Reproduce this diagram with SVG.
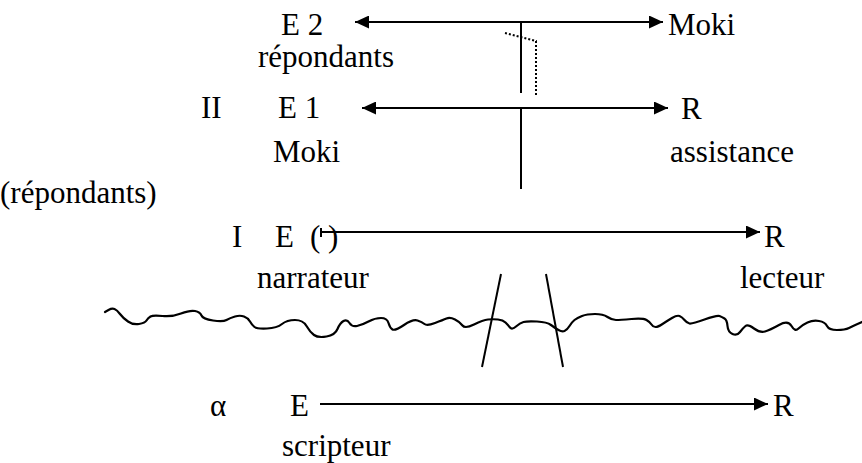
<svg xmlns="http://www.w3.org/2000/svg" width="862" height="463" viewBox="0 0 862 463">
  <defs>
    <marker id="head" viewBox="0 0 14 13" refX="14" refY="6.5" markerWidth="14" markerHeight="13" markerUnits="userSpaceOnUse" orient="auto-start-reverse">
      <path d="M0,0 L14,6.5 L0,13 Z" fill="#000"/>
    </marker>
  </defs>
  <style>
    .t text { font-size: 31px; fill: #000; }
    .ln { stroke: #000; stroke-width: 2; fill: none; }
    .dot { stroke: #000; stroke-width: 2; fill: none; stroke-dasharray: 2 2; }
    .wave { stroke: #000; stroke-width: 2.2; fill: none; stroke-linejoin: round; stroke-linecap: round; }
  </style>
  <rect width="862" height="463" fill="#fff"/>

  <g class="t" font-family="'Times New Roman', 'Liberation Serif', Tinos, serif">
    <!-- level labels -->
    <g id="levels">
      <text x="201" y="118">II</text>
      <text x="0" y="203">(répondants)</text>
      <text x="232" y="247">I</text>
      <text x="210" y="416">α</text>
    </g>

    <g id="e2">
      <text x="281" y="35">E 2</text>
      <text x="258" y="67">répondants</text>
    </g>
    <g id="moki-r2">
      <text x="668" y="35">Moki</text>
    </g>
    <g id="e1">
      <text x="278" y="118">E 1</text>
      <text x="273" y="162">Moki</text>
    </g>
    <g id="r1">
      <text x="681" y="119">R</text>
      <text x="670" y="162">assistance</text>
    </g>
    <g id="narrateur">
      <text x="275" y="247">E</text>
      <text x="310" y="247">(</text>
      <text x="328" y="247">)</text>
      <text x="257" y="288">narrateur</text>
    </g>
    <g id="lecteur">
      <text x="764" y="247">R</text>
      <text x="740" y="288">lecteur</text>
    </g>
    <g id="scripteur">
      <text x="290" y="416">E</text>
      <text x="282" y="456">scripteur</text>
    </g>
    <g id="reader">
      <text x="773" y="416">R</text>
    </g>
  </g>

  <g id="connectors">
    <!-- level II-2 -->
    <line class="ln" x1="355" y1="22" x2="663" y2="22" marker-start="url(#head)" marker-end="url(#head)"/>
    <line class="ln" x1="521" y1="22" x2="521" y2="93"/>
    <polyline class="dot" points="505,33 536,41 536,95"/>
    <!-- level II-1 -->
    <line class="ln" x1="362" y1="108" x2="668" y2="108" marker-start="url(#head)" marker-end="url(#head)"/>
    <line class="ln" x1="521" y1="108" x2="521" y2="189"/>
    <!-- level I -->
    <line class="ln" x1="321" y1="228" x2="321" y2="237"/>
    <line class="ln" x1="321" y1="232" x2="760" y2="232" marker-end="url(#head)"/>
    <!-- level alpha -->
    <line class="ln" x1="320" y1="404" x2="768" y2="404" marker-end="url(#head)"/>
    <!-- slanted lines through the boundary -->
    <line class="ln" x1="501" y1="274" x2="482" y2="367"/>
    <line class="ln" x1="546" y1="274" x2="563" y2="367"/>
    <!-- wavy boundary -->
    <path class="wave" d="M105,312 L108.5,310 Q112,308 114.5,309 Q117,310 120,314 Q123,318 128,321.5 Q133,325 139,324 Q145,323 146.5,320.5 Q148,318 150.5,316.5 Q153,315 162.5,316 Q172,317 181,313.5 Q190,310 195,311 Q200,312 201.5,315.5 Q203,319 213,320.5 Q223,322 226.5,320 Q230,318 235,316.5 Q240,315 244,316.5 Q248,318 250,321.5 Q252,325 254.5,327 Q257,329 267,328.5 Q277,328 282,324 Q287,320 295,320 Q303,320 306.5,326 Q310,332 314,335 Q318,338 326.5,336.5 Q335,335 337.5,329 Q340,323 343.5,321 Q347,319 349.5,323 Q352,327 357,326 Q362,325 368.5,321.5 Q375,318 381,318 Q387,318 388.5,323 Q390,328 392.5,329.5 Q395,331 404,325 Q413,319 417.5,320.5 Q422,322 424.5,324 Q427,326 435,323 Q443,320 446.5,318.5 Q450,317 455,319.5 Q460,322 462.5,325.5 Q465,329 474,324.5 Q483,320 488,319.5 Q493,319 498,319.5 Q503,320 505.5,322.5 Q508,325 510,327.5 Q512,330 516,326.5 Q520,323 523.5,322 Q527,321 537,321.5 Q547,322 551,325 Q555,328 558.5,330 Q562,332 564.5,331 Q567,330 569.5,326 Q572,322 574.5,320 Q577,318 582,316 Q587,314 595,314 Q603,314 607.5,317 Q612,320 616,320 Q620,320 631.5,319 Q643,318 646.5,320 Q650,322 651.5,324.5 Q653,327 655.5,327 Q658,327 662.5,324 Q667,321 672,318 Q677,315 679.5,316 Q682,317 684.5,320 Q687,323 689.5,323.5 Q692,324 704.5,319.5 Q717,315 719.5,316 Q722,317 724.5,318.5 Q727,320 727.5,326 Q728,332 732.5,334 Q737,336 740,332 Q743,328 745.5,326 Q748,324 754,328.5 Q760,333 765,331.5 Q770,330 779,325 Q788,320 791.5,326 Q795,332 798.5,328.5 Q802,325 807.5,322.5 Q813,320 819,321 Q825,322 827,326 Q829,330 837,330 Q845,330 849,328 Q853,326 857.5,324 L862,322"/>
  </g>
</svg>
